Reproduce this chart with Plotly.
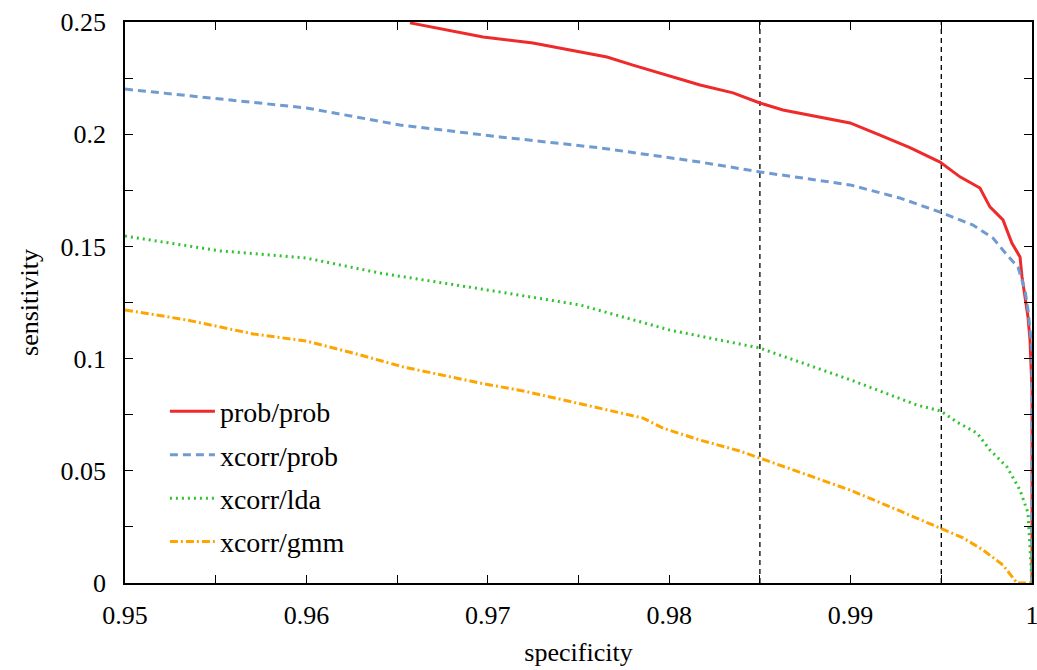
import plotly.graph_objects as go

# ---- data ----
prob_prob_x = [0.96571, 0.96974, 0.97249, 0.9747, 0.97657, 0.978, 0.97988, 0.9817, 0.98352, 0.985,
               0.98627, 0.98815, 0.98997, 0.99162, 0.99327, 0.99493, 0.99603, 0.99713, 0.99768,
               0.9984, 0.99889, 0.99934, 0.99945, 0.99978, 0.99989, 1.0, 1.0]
prob_prob_y = [0.2496, 0.2433, 0.2406, 0.2371, 0.2344, 0.2308, 0.2264, 0.2219, 0.2184, 0.2139,
               0.2108, 0.2077, 0.205, 0.1996, 0.194, 0.1876, 0.181, 0.176, 0.1676,
               0.1618, 0.1515, 0.1453, 0.1364, 0.1185, 0.1083, 0.086, 0.0]

xcorr_prob_x = [0.95, 0.95606, 0.96, 0.96516, 0.97067, 0.97619, 0.9817, 0.985, 0.98997, 0.9927,
                0.99493, 0.99675, 0.99785, 0.99862, 0.99923, 0.99961, 0.99978, 1.0, 1.0]
xcorr_prob_y = [0.2201, 0.2152, 0.2117, 0.2041, 0.1988, 0.1939, 0.1876, 0.1832, 0.1774, 0.1716,
                0.1653, 0.1595, 0.1537, 0.1462, 0.1408, 0.1306, 0.1217, 0.1038, 0.0]

xcorr_lda_x = [0.95, 0.95524, 0.96, 0.96406, 0.96996, 0.97508, 0.98004, 0.985, 0.99, 0.99178,
               0.99366, 0.99498, 0.99587, 0.99697, 0.99768, 0.99862, 0.99934, 0.99978, 1.0]
xcorr_lda_y = [0.1546, 0.148, 0.1448, 0.1381, 0.1306, 0.1239, 0.1127, 0.1047, 0.0905, 0.0851,
               0.0793, 0.0766, 0.0717, 0.0668, 0.0593, 0.0517, 0.0414, 0.0312, 0.0]

xcorr_gmm_x = [0.95, 0.95342, 0.95706, 0.96, 0.96257, 0.96533, 0.96957, 0.97194, 0.97415, 0.97635,
               0.97856, 0.97966, 0.9817, 0.9839, 0.985, 0.98721, 0.98997, 0.99234, 0.99493,
               0.9962, 0.9973, 0.9984, 0.99917, 1.0]
xcorr_gmm_y = [0.1217, 0.1172, 0.111, 0.1078, 0.1025, 0.0963, 0.0891, 0.0856, 0.0816, 0.0775,
               0.0735, 0.069, 0.0637, 0.0588, 0.0557, 0.0495, 0.0414, 0.0334, 0.0245,
               0.0201, 0.0147, 0.008, 0.0, 0.0]

threshold_x = [0.985, 0.995]

x_tick_vals = [0.95 + 0.005 * i for i in range(11)]
x_tick_text = ["0.95", "", "0.96", "", "0.97", "", "0.98", "", "0.99", "", "1"]
y_tick_vals = [0.025 * i for i in range(11)]
y_tick_text = ["0", "", "0.05", "", "0.1", "", "0.15", "", "0.2", "", "0.25"]

FONT = "Liberation Serif, Times New Roman, DejaVu Serif, serif"

fig = go.Figure()

series = [
    ("prob/prob", prob_prob_x, prob_prob_y, "#ee2a2a", "solid"),
    ("xcorr/prob", xcorr_prob_x, xcorr_prob_y, "#6f9bd0", "8px,5px"),
    ("xcorr/lda", xcorr_lda_x, xcorr_lda_y, "#2fc42f", "2px,4px"),
    ("xcorr/gmm", xcorr_gmm_x, xcorr_gmm_y, "#ffa500", "8px,3px,2px,3px"),
]
for name, xs, ys, col, dash in series:
    fig.add_trace(go.Scatter(x=xs, y=ys, mode="lines", name=name, legendgroup=name,
                             line=dict(color=col, width=3, dash=dash)))

for tx in threshold_x:
    fig.add_shape(type="line", xref="x", yref="paper", x0=tx, x1=tx, y0=0, y1=1,
                  line=dict(color="black", width=1.3, dash="5px,4px"), layer="below")

axis_common = dict(
    showgrid=False, zeroline=False, showline=True, linecolor="black", linewidth=1.8,
    mirror="ticks", ticks="inside", ticklen=8, tickwidth=1.3, tickcolor="black",
    tickfont=dict(family=FONT, size=26, color="black"), automargin=False,
    ticklabeloverflow="allow",
)

fig.update_layout(
    width=1037, height=670,
    margin=dict(l=125, r=5, t=22, b=87),
    paper_bgcolor="white", plot_bgcolor="white",
    font=dict(family=FONT, size=26, color="black"),
    xaxis=dict(range=[0.95, 1.0], tickmode="array", tickvals=x_tick_vals, ticktext=x_tick_text,
               title=dict(text="specificity", font=dict(family=FONT, size=26), standoff=14),
               ticklabelstandoff=8, **axis_common),
    yaxis=dict(range=[0, 0.25], tickmode="array", tickvals=y_tick_vals, ticktext=y_tick_text,
               title=dict(text="sensitivity", font=dict(family=FONT, size=26), standoff=14),
               ticklabelstandoff=12, **axis_common),
    legend=dict(x=0.044, y=0.35, xanchor="left", yanchor="top", bgcolor="rgba(0,0,0,0)",
                font=dict(family=FONT, size=28), tracegroupgap=4, traceorder="grouped",
                itemwidth=45),
    showlegend=True,
)

fig.write_html("out.html")
